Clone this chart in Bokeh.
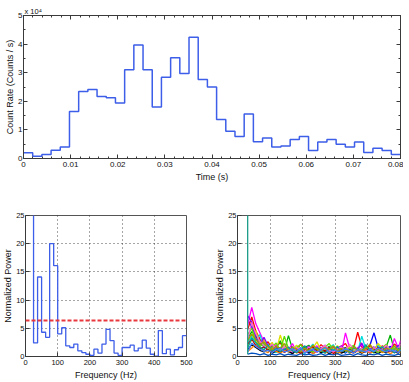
from bokeh.plotting import figure
from bokeh.layouts import column, row
from bokeh.models import (LinearAxis, Range1d, Title, SingleIntervalTicker, Span,
                          CustomJSTickFormatter)
from bokeh.embed import file_html
from bokeh.resources import INLINE

FONT = "Liberation Sans"

# ---------------- data ----------------
# light curve: 41 bins spanning 0 - 0.08 s, count rate in units of 1e4 counts/s
n_time_bins = 41
time_span = 0.08
count_rate = [0.20, 0.08, 0.14, 0.29, 0.40, 1.64, 2.34, 2.41, 2.17, 2.12,
              1.94, 3.10, 3.97, 3.10, 1.80, 2.84, 3.52, 2.97, 4.24, 2.76,
              2.50, 1.36, 0.95, 0.77, 1.56, 0.59, 0.72, 0.40, 0.44, 0.66,
              0.77, 0.28, 0.58, 0.66, 0.50, 0.40, 0.58, 0.21, 0.36, 0.28,
              0.14]

# power spectrum of the burst (stairs, segment start frequencies in Hz)
psd_freq = [12.5, 25, 37.5, 50, 62.5, 75, 87.5, 100, 112.5, 125,
            137.5, 150, 162.5, 175, 187.5, 200, 212.5, 225, 237.5, 250,
            262.5, 275, 287.5, 300, 312.5, 325, 337.5, 350, 362.5, 375,
            387.5, 400, 412.5, 425, 437.5, 450, 462.5, 475, 487.5]
psd_power = [60, 2.4, 14.1, 4.3, 3.4, 20.0, 16.1, 4.0, 5.1, 1.9,
             1.6, 2.2, 1.0, 0.7, 0.4, 0.2, 1.3, 0.6, 2.2, 4.8,
             2.8, 0.6, 0.2, 1.6, 1.6, 2.0, 1.0, 1.5, 2.9, 1.5,
             0.4, 0.05, 4.6, 0.5, 1.3, 0.3, 1.2, 1.6, 3.7]
psd_fmax = 500
threshold = 6.4

# simulated power spectra
sim_freq = [31.25, 43.75, 56.25, 68.75, 81.25, 93.75, 106.25, 118.75, 131.25, 143.75,
            156.25, 168.75, 181.25, 193.75, 206.25, 218.75, 231.25, 243.75, 256.25, 268.75,
            281.25, 293.75, 306.25, 318.75, 331.25, 343.75, 356.25, 368.75, 381.25, 393.75,
            406.25, 418.75, 431.25, 443.75, 456.25, 468.75, 481.25, 493.75, 500]
sim_series = [
    ("#0000ff", [6.5, 5.2, 3.8, 2.9, 2.2, 1.6, 1.9, 1.2, 0.8, 1.5, 1.1, 0.6, 1.4, 0.9, 1.8, 1.2, 0.5, 1.0, 1.6, 0.7,
                 1.3, 0.9, 1.7, 1.1, 0.6, 1.2, 1.9, 1.0, 1.5, 0.8, 2.0, 4.2, 1.6, 0.9, 1.3, 1.8, 1.0, 1.4, 1.1]),
    ("#ff0000", [4.8, 7.0, 4.5, 3.1, 2.0, 2.6, 1.4, 1.9, 2.4, 1.3, 0.9, 1.7, 1.1, 2.2, 1.5, 0.8, 1.9, 1.2, 2.1, 1.4,
                 0.9, 1.6, 1.2, 1.8, 2.3, 1.0, 1.4, 4.3, 1.7, 1.1, 2.0, 1.3, 0.8, 1.9, 1.5, 1.2, 2.2, 1.6, 1.3]),
    ("#00b000", [3.2, 4.4, 3.6, 2.4, 1.8, 1.2, 0.9, 1.5, 2.8, 1.0, 3.7, 1.3, 0.7, 1.1, 1.6, 2.0, 0.9, 1.4, 0.6, 1.2,
                 1.8, 1.0, 0.5, 1.3, 1.6, 0.8, 1.1, 1.5, 0.7, 1.9, 1.2, 0.6, 1.4, 1.0, 1.7, 3.8, 1.1, 0.8, 1.6]),
    ("#ff00ff", [5.5, 8.7, 5.8, 4.2, 2.6, 1.8, 1.3, 2.1, 1.0, 1.6, 1.2, 2.3, 0.8, 1.5, 1.1, 0.6, 1.3, 1.9, 0.9, 1.4,
                 1.0, 1.8, 1.2, 0.7, 4.2, 1.5, 1.0, 1.6, 2.0, 1.3, 0.9, 1.5, 1.1, 1.8, 1.2, 0.9, 3.2, 1.4, 2.8]),
    ("#00dddd", [2.5, 3.6, 2.8, 3.9, 1.5, 2.2, 1.0, 0.7, 1.3, 1.9, 0.8, 1.2, 1.7, 0.9, 0.5, 1.4, 2.2, 1.0, 1.3, 0.8,
                 1.5, 2.1, 0.9, 1.2, 0.7, 1.6, 1.1, 0.9, 3.6, 1.3, 0.8, 1.4, 2.1, 1.0, 0.6, 1.2, 1.5, 1.9, 1.0]),
    ("#dddd00", [1.8, 2.9, 4.6, 2.2, 3.1, 1.4, 2.5, 1.1, 3.8, 1.5, 0.9, 1.3, 2.0, 1.2, 0.8, 1.1, 1.5, 2.6, 1.0, 1.3,
                 0.7, 1.2, 1.9, 1.4, 0.9, 1.7, 1.2, 0.8, 1.4, 1.0, 1.6, 1.1, 2.3, 1.5, 0.9, 1.3, 1.8, 1.2, 0.7]),
    ("#000000", [1.2, 2.1, 1.6, 1.1, 0.8, 1.3, 0.6, 1.0, 0.7, 1.2, 0.9, 0.5, 1.1, 0.8, 1.4, 0.6, 0.9, 1.2, 0.7, 1.0,
                 0.5, 0.8, 1.1, 0.6, 0.9, 1.3, 0.7, 1.0, 0.6, 0.9, 1.2, 0.8, 0.5, 1.0, 0.7, 1.1, 0.8, 0.6, 0.9]),
    ("#8000ff", [7.2, 6.1, 3.3, 2.0, 3.4, 1.9, 1.1, 1.6, 1.3, 0.9, 1.7, 1.0, 1.5, 0.7, 1.2, 1.8, 1.1, 0.8, 1.5, 2.0,
                 1.1, 0.7, 1.4, 1.9, 1.0, 0.8, 1.6, 1.2, 2.4, 0.9, 1.3, 1.7, 0.8, 1.2, 1.6, 0.9, 1.3, 2.0, 1.5]),
    ("#ff8000", [0.9, 1.5, 2.2, 1.6, 1.0, 0.7, 1.4, 0.9, 0.6, 1.1, 0.8, 1.3, 0.6, 1.0, 0.7, 1.2, 0.5, 0.9, 1.3, 0.6,
                 1.0, 0.8, 0.5, 0.9, 1.2, 0.6, 0.8, 1.1, 0.7, 1.0, 0.6, 0.9, 1.2, 0.7, 1.0, 0.5, 0.9, 1.1, 0.6]),
    ("#60e000", [3.9, 5.0, 2.6, 1.8, 2.3, 1.0, 1.7, 2.4, 1.1, 3.6, 1.4, 0.9, 1.6, 2.1, 1.0, 1.3, 0.8, 1.5, 1.1, 1.7,
                 2.3, 1.2, 0.9, 1.5, 1.0, 1.4, 2.0, 0.9, 1.2, 1.6, 1.0, 1.3, 0.7, 1.5, 2.2, 1.0, 1.4, 0.9, 1.8]),
    ("#0050c0", [0.4, 0.6, 0.5, 0.3, 0.5, 0.2, 0.4, 0.3, 0.5, 0.2, 0.4, 0.3, 0.2, 0.5, 0.3, 0.4, 0.2, 0.3, 0.5, 0.2,
                 0.4, 0.3, 0.5, 0.2, 0.3, 0.4, 0.2, 0.5, 0.3, 0.2, 0.4, 0.3, 0.5, 0.2, 0.4, 0.3, 0.2, 0.4, 0.3]),
    ("#c00000", [2.2, 3.1, 1.9, 1.4, 1.7, 1.1, 0.8, 1.3, 1.6, 0.7, 1.2, 1.5, 0.9, 0.6, 1.1, 1.4, 1.7, 0.8, 1.2, 0.9,
                 1.6, 0.5, 1.0, 1.3, 1.5, 0.9, 0.6, 1.2, 1.0, 1.4, 0.8, 1.1, 1.6, 1.3, 0.8, 1.2, 0.7, 1.0, 1.2]),
    ("#ff66cc", [3.0, 6.0, 4.0, 2.7, 1.9, 1.5, 2.2, 1.3, 1.0, 1.8, 1.2, 0.8, 1.6, 1.1, 0.9, 1.7, 1.2, 0.7, 1.4, 2.0,
                 1.1, 0.8, 1.3, 1.7, 1.0, 2.2, 1.4, 0.9, 1.5, 1.2, 0.8, 1.6, 1.0, 1.3, 2.0, 1.1, 0.9, 1.4, 2.2]),
    ("#00a0a0", [1.5, 3.3, 2.4, 1.7, 1.2, 2.0, 1.0, 1.4, 0.9, 1.3, 1.6, 1.0, 0.7, 1.2, 1.9, 0.8, 1.3, 1.6, 1.0, 0.6,
                 1.4, 1.1, 1.8, 0.9, 1.2, 0.7, 1.5, 1.3, 0.9, 2.1, 1.1, 0.8, 1.4, 1.7, 1.0, 1.3, 0.6, 1.5, 1.0]),
    ("#a0a000", [2.8, 4.0, 3.0, 2.1, 2.6, 1.7, 1.2, 1.8, 1.4, 2.3, 1.0, 1.6, 1.3, 0.8, 1.5, 1.0, 2.0, 1.3, 0.9, 1.6,
                 1.2, 1.9, 1.0, 1.4, 1.1, 0.9, 1.7, 1.2, 1.0, 1.4, 2.2, 1.0, 1.3, 0.8, 1.5, 1.2, 1.9, 1.0, 1.3]),
    ("#4080ff", [0.8, 2.4, 1.8, 1.3, 0.9, 1.1, 0.7, 1.2, 1.5, 0.8, 1.0, 1.4, 0.9, 1.6, 0.6, 1.0, 1.3, 0.8, 1.1, 1.5,
                 0.7, 1.2, 0.9, 1.0, 1.4, 1.1, 0.6, 1.2, 1.0, 0.8, 1.3, 0.9, 1.5, 1.1, 0.8, 1.2, 1.0, 0.7, 1.1]),
]
sim_spike_freq = [30.5, 31.25]
sim_spike_power = [400, 0.4]
sim_spike_color = "#1f9e89"

LINE_BLUE = "#3d5ee8"
TXT = "#111111"


def style_axes(p, tick_font, label_font):
    p.background_fill_color = "white"
    p.border_fill_color = "white"
    p.outline_line_color = "#3a3a3a"
    p.outline_line_width = 1
    for ax in p.axis:
        ax.axis_line_color = "#3a3a3a"
        ax.major_tick_line_color = "#3a3a3a"
        ax.minor_tick_line_color = "#3a3a3a"
        ax.major_label_text_font = FONT
        ax.major_label_text_font_size = tick_font
        ax.major_label_text_color = TXT
        ax.axis_label_text_font = FONT
        ax.axis_label_text_font_size = label_font
        ax.axis_label_text_font_style = "normal"
        ax.axis_label_text_color = TXT
        ax.major_label_standoff = 3
        ax.axis_label_standoff = 2
        ax.major_tick_in = 4
        ax.major_tick_out = 0
        ax.minor_tick_in = 2
        ax.minor_tick_out = 0
    for ax in p.yaxis:
        ax.major_label_standoff = 1
        ax.axis_label_standoff = 0


# ---------------- top: light curve ----------------
time_edges = [i * time_span / n_time_bins for i in range(n_time_bins + 1)]
rate_steps = count_rate + [count_rate[-1]]

p1 = figure(width=403, height=185, x_range=Range1d(0, time_span), y_range=Range1d(0, 5),
            output_backend="svg", toolbar_location=None,
            min_border_left=23, min_border_right=3, min_border_top=15, min_border_bottom=27)
p1.grid.visible = False
p1.step(time_edges, rate_steps, mode="after", line_color=LINE_BLUE, line_width=1.5)
p1.xaxis.ticker = SingleIntervalTicker(interval=0.01, num_minor_ticks=5)
p1.yaxis.ticker = SingleIntervalTicker(interval=1, num_minor_ticks=2)
p1.xaxis.major_label_overrides = {0: "0"}
p1.xaxis.axis_label = "Time (s)"
p1.yaxis.axis_label = "Count Rate (Counts / s)"
blank = CustomJSTickFormatter(code="return ''")
top_ax = LinearAxis(ticker=SingleIntervalTicker(interval=0.01, num_minor_ticks=5), formatter=blank)
right_ax = LinearAxis(ticker=SingleIntervalTicker(interval=1, num_minor_ticks=2), formatter=blank)
p1.add_layout(top_ax, "above")
p1.add_layout(right_ax, "right")
style_axes(p1, "8px", "9px")
for ax in (top_ax, right_ax):
    ax.major_label_standoff = 0
p1.add_layout(Title(text="x 10\u2074", align="left", offset=1, standoff=0,
                    text_font=FONT, text_font_size="7.5px", text_font_style="normal",
                    text_color=TXT), "above")

# ---------------- bottom left: PSD ----------------
psd_edges = psd_freq + [psd_fmax]
psd_steps = psd_power + [psd_power[-1]]

p2 = figure(width=207, height=197, x_range=Range1d(0, 500), y_range=Range1d(0, 25),
            output_backend="svg", toolbar_location=None,
            min_border_left=23, min_border_right=21, min_border_top=30, min_border_bottom=24)
p2.step(psd_edges, psd_steps, mode="after", line_color=LINE_BLUE, line_width=1.3)
p2.add_layout(Span(location=threshold, dimension="width", line_color="#e8383d",
                   line_dash="4 2", line_width=2))

# ---------------- bottom right: simulations ----------------
p3 = figure(width=196, height=197, x_range=Range1d(0, 500), y_range=Range1d(0, 25),
            output_backend="svg", toolbar_location=None,
            min_border_left=30, min_border_right=3, min_border_top=30, min_border_bottom=24)
xs, ys, cols = [], [], []
for c, vals in sim_series:
    n = min(len(sim_freq), len(vals))
    xs.append(sim_freq[:n])
    ys.append(vals[:n])
    cols.append(c)
p3.multi_line(xs, ys, line_color=cols, line_width=1.3)
p3.line(sim_spike_freq, sim_spike_power, line_color=sim_spike_color, line_width=1.3)

for p in (p2, p3):
    p.xaxis.ticker = SingleIntervalTicker(interval=100, num_minor_ticks=0)
    p.yaxis.ticker = SingleIntervalTicker(interval=5, num_minor_ticks=0)
    p.xaxis.axis_label = "Frequency (Hz)"
    p.yaxis.axis_label = "Normalized Power"
    p.grid.grid_line_color = "#222222"
    p.grid.grid_line_dash = "1 3"
    p.grid.grid_line_alpha = 0.8
    style_axes(p, "7.5px", "9px")
    p.outline_line_color = "#555555"

layout = column(p1, row(p2, p3))
open("out.html", "w").write(file_html(layout, INLINE))
